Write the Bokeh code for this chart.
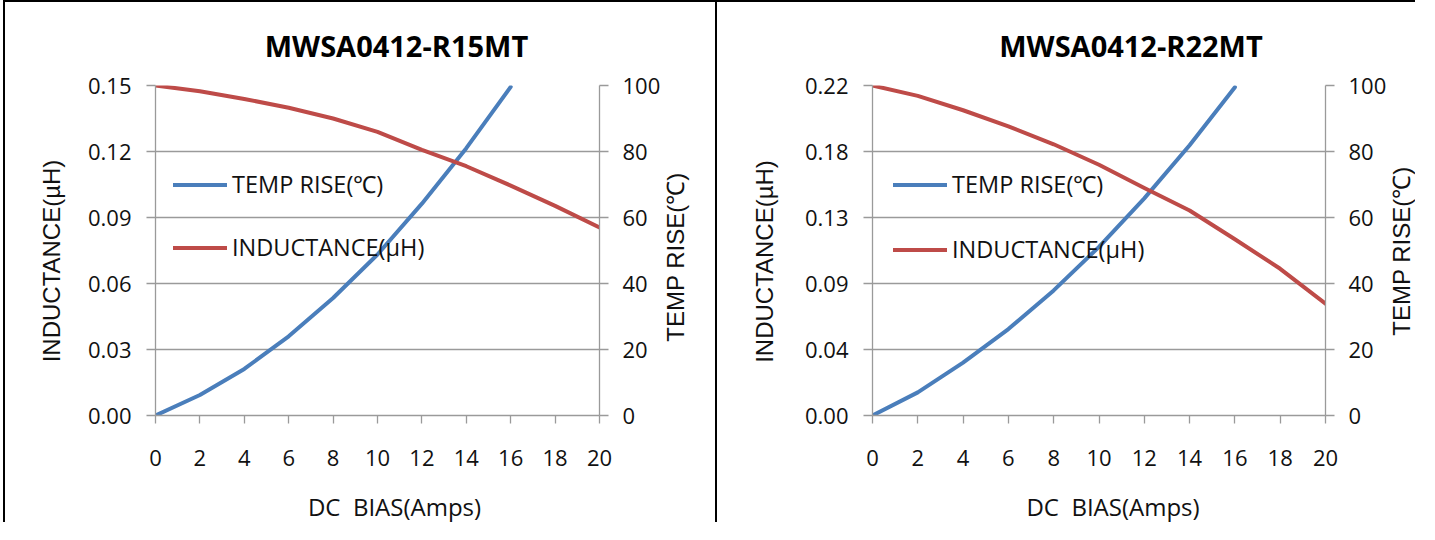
import math
from bokeh.plotting import figure
from bokeh.layouts import row
from bokeh.models import (Range1d, LinearAxis, FixedTicker, PrintfTickFormatter,
                          Legend, LegendItem, Label)
from bokeh.embed import file_html
from bokeh.resources import INLINE

# ---------------- data ----------------
bias = [0, 2, 4, 6, 8, 10, 12, 14, 16, 18, 20]          # DC bias (A) for inductance
temp_bias = [0, 2, 4, 6, 8, 10, 12, 14, 16]             # DC bias (A) for temperature rise
x_ticks = [0, 2, 4, 6, 8, 10, 12, 14, 16, 18, 20]
temp_ticks = [0, 20, 40, 60, 80, 100]

r15_title = "MWSA0412-R15MT"
r15_inductance = [0.1500, 0.1474, 0.1439, 0.1399, 0.1350, 0.1289, 0.1207, 0.1133, 0.1045, 0.0953, 0.0855]
r15_temp_rise = [0.0, 6.2, 14.1, 24.0, 35.6, 48.8, 64.2, 81.0, 99.6]
r15_ind_ticks = [0.00, 0.03, 0.06, 0.09, 0.12, 0.15]

r22_title = "MWSA0412-R22MT"
r22_inductance = [0.2200, 0.2131, 0.2035, 0.1928, 0.1808, 0.1672, 0.1517, 0.1367, 0.1175, 0.0978, 0.0745]
r22_temp_rise = [0.0, 7.0, 16.0, 26.2, 37.9, 51.1, 65.8, 81.9, 99.5]
r22_ind_ticks = [0.000, 0.044, 0.088, 0.132, 0.176, 0.220]

x_label = "DC\u00a0 BIAS(Amps)"
ind_label = "INDUCTANCE(µH)"
temp_label = "TEMP RISE(℃)"

# ---------------- style ----------------
BLUE = "#4a7ebb"
RED = "#be4b48"
GRID = "#9a9a9a"
TXT = "#111111"
TICK_FONT = "Open Sans"
AX_FONT = "Liberation Sans"


def style_axis(ax, tick_out):
    ax.axis_line_color = GRID
    ax.axis_line_width = 1.3
    ax.major_tick_line_color = GRID
    ax.major_tick_line_width = 1.3
    ax.major_tick_out = tick_out
    ax.major_tick_in = 0
    ax.minor_tick_out = 0
    ax.minor_tick_in = 0
    ax.major_label_text_font = TICK_FONT
    ax.major_label_text_font_size = "22px"
    ax.major_label_text_color = TXT


def make_chart(title, ind, temp, ind_ticks, width, mbl, mbr, margin_left,
               title_dx, xlab_dx, ylab_dx, ylab_dy, rlab_dy, leg_loc, leg_spacing):
    top = ind_ticks[-1]
    p = figure(width=width, height=522, x_range=Range1d(0, 20), y_range=Range1d(0, top),
               output_backend="svg", toolbar_location=None, title=None,
               min_border_left=mbl, min_border_right=mbr, min_border_top=83, min_border_bottom=109,
               background_fill_color="white", border_fill_color="white",
               margin=(0, 0, 0, margin_left),
               styles={"border-left": "2px solid black", "border-top": "2px solid black"})
    p.outline_line_color = None
    p.extra_y_ranges = {"temp": Range1d(0, 100)}

    # x axis
    xa = p.xaxis[0]
    style_axis(xa, 8)
    xa.ticker = FixedTicker(ticks=x_ticks)
    xa.major_label_standoff = 26
    p.xgrid.visible = False

    # left axis (inductance)
    ya = p.yaxis[0]
    style_axis(ya, 9)
    ya.ticker = FixedTicker(ticks=ind_ticks)
    ya.formatter = PrintfTickFormatter(format="%.2f")
    ya.major_label_standoff = 15
    p.ygrid.ticker = FixedTicker(ticks=ind_ticks)
    p.ygrid.grid_line_color = GRID
    p.ygrid.grid_line_width = 1.3

    # right axis (temperature rise)
    ra = LinearAxis(y_range_name="temp", ticker=FixedTicker(ticks=temp_ticks))
    style_axis(ra, 9)
    ra.major_label_standoff = 14
    p.add_layout(ra, "right")

    # series
    r_temp = p.line(temp_bias, temp, y_range_name="temp", line_color=BLUE, line_width=4,
                    line_cap="round", line_join="round")
    r_ind = p.line(bias, ind, line_color=RED, line_width=4, line_cap="round", line_join="round")

    leg = Legend(items=[LegendItem(label=temp_label, renderers=[r_temp]),
                        LegendItem(label=ind_label, renderers=[r_ind])],
                 location=leg_loc, orientation="vertical",
                 padding=0, margin=0, spacing=leg_spacing,
                 glyph_width=54, glyph_height=31, label_height=31, label_standoff=5,
                 label_text_font=TICK_FONT, label_text_font_size="23.5px", label_text_color=TXT,
                 border_line_color=None, background_fill_alpha=0)
    p.add_layout(leg, "center")

    # chart title (above), axis titles (left / right / below) as side-panel labels
    p.add_layout(Label(x=10, y=top, x_offset=title_dx, y_offset=40, text=title,
                       text_align="center", text_baseline="alphabetic",
                       text_font=TICK_FONT, text_font_style="bold", text_font_size="29px",
                       text_color="#000000"), "above")
    p.add_layout(Label(x=10, y=0, x_offset=xlab_dx, y_offset=-91, text=x_label,
                       text_align="center", text_baseline="alphabetic",
                       text_font=TICK_FONT, text_font_size="24px", text_color=TXT), "below")
    p.add_layout(Label(x=0, y=top / 2, x_offset=ylab_dx, y_offset=ylab_dy, text=ind_label,
                       angle=math.pi / 2, text_align="center", text_baseline="middle",
                       text_font=AX_FONT, text_font_size="24px", text_color=TXT), "left")
    p.add_layout(Label(x=20, y=top / 2, x_offset=75.5, y_offset=rlab_dy, text=temp_label,
                       angle=math.pi / 2, text_align="center", text_baseline="middle",
                       text_font=AX_FONT, text_font_size="24px", text_color=TXT), "right")
    return p


p1 = make_chart(r15_title, r15_inductance, r15_temp_rise, r15_ind_ticks,
                width=712, mbl=150, mbr=118, margin_left=3,
                title_dx=19, xlab_dx=17, ylab_dx=-104, ylab_dy=-10.5, rlab_dy=-6.5,
                leg_loc=(18, 152), leg_spacing=31)
p2 = make_chart(r22_title, r22_inductance, r22_temp_rise, r22_ind_ticks,
                width=700, mbl=155, mbr=92, margin_left=0,
                title_dx=32, xlab_dx=14, ylab_dx=-108, ylab_dy=-11, rlab_dy=-0.5,
                leg_loc=(21, 150), leg_spacing=33)

layout = row(p1, p2, spacing=0)
open("out.html", "w").write(file_html(layout, INLINE))
